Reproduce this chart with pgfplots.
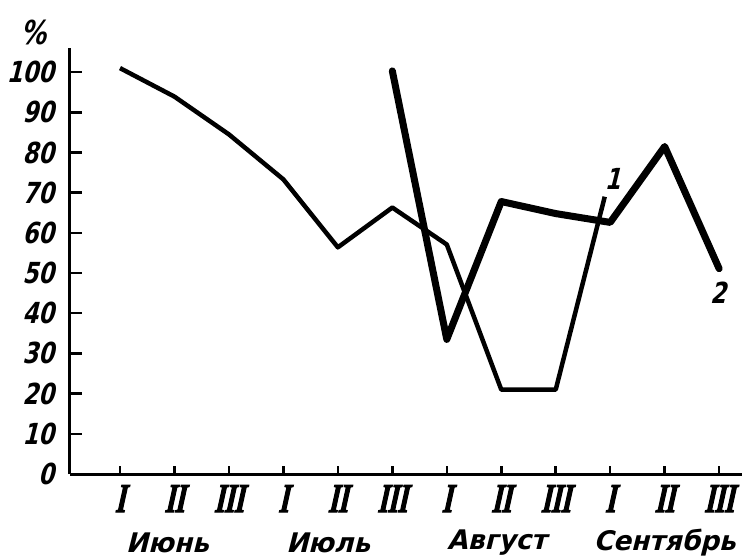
\documentclass[border=0pt]{standalone}
\usepackage{fontspec}
\usepackage{pgfplots}
\pgfplotsset{compat=1.18}
\setmainfont{DejaVu Sans}
\newfontfamily\numfont{DejaVu Sans}[FakeStretch=0.78, FakeSlant=0.25]
\newfontfamily\monthfont{DejaVu Sans}[FakeStretch=0.98, FakeSlant=0.25]
\newfontfamily\romfont{Liberation Serif}[FakeStretch=0.62, FakeSlant=0.22, FakeBold=2.5]

\begin{document}
\begin{tikzpicture}
\useasboundingbox (-70pt,-84pt) rectangle (672pt,474pt);
\begin{axis}[
    scale only axis,
    width=672pt, height=426pt,
    at={(0,0)}, anchor=south west,
    xmin=-0.918, xmax=11.42,
    ymin=0, ymax=106,
    clip=false,
    axis x line=bottom, axis y line=left,
    axis line style={-, line width=3pt},
    tick align=inside,
    major tick length=12pt,
    tick style={line width=2.5pt, black},
    xtick style={/pgfplots/major tick length=8pt},
    xtick={0,...,11},
    xticklabels={I,II,III,I,II,III,I,II,III,I,II,III},
    xticklabel style={font=\romfont\bfseries\fontsize{41}{41}\selectfont,
        anchor=north, inner sep=0pt, yshift=-11pt},
    ytick={0,10,...,100},
    /pgf/number format/assume math mode=true,
    yticklabel style={font=\numfont\bfseries\fontsize{29}{29}\selectfont,
        anchor=east, inner sep=0pt, xshift=-16pt},
]
% 1 (thin)
\addplot[black, line width=4.5pt, line join=round] coordinates {
    (0,101) (1,93.9) (2,84.5) (3,73.3) (4,56.4) (5,66.3)
    (6,57.1) (7,21) (8,21) (8.9,69)
};
% 2 (thick)
\addplot[black, line width=7pt, line cap=round, line join=round] coordinates {
    (5,100.3) (6,33.5) (7,67.8) (8,64.8) (9,62.6) (10,81.5) (11,51.1)
};
\node[font=\numfont\bfseries\fontsize{29}{29}\selectfont] at (axis cs:9.04,73.5) {1};
\node[font=\numfont\bfseries\fontsize{29}{29}\selectfont] at (axis cs:10.98,45) {2};
\node[font=\numfont\bfseries\fontsize{33}{33}\selectfont] at (rel axis cs:0,1) [xshift=-37pt, yshift=16pt] {\%};
\begin{scope}[every node/.style={font=\monthfont\bfseries\fontsize{27}{27}\selectfont}]
\node at (axis cs:0.87,0) [yshift=-69pt] {Июнь};
\node at (axis cs:3.82,0) [yshift=-69pt] {Июль};
\node at (axis cs:6.92,0) [yshift=-69pt] {Август};
\node at (axis cs:10,0) [yshift=-69pt] {Сентябрь};
\end{scope}
\end{axis}
\end{tikzpicture}
\end{document}
